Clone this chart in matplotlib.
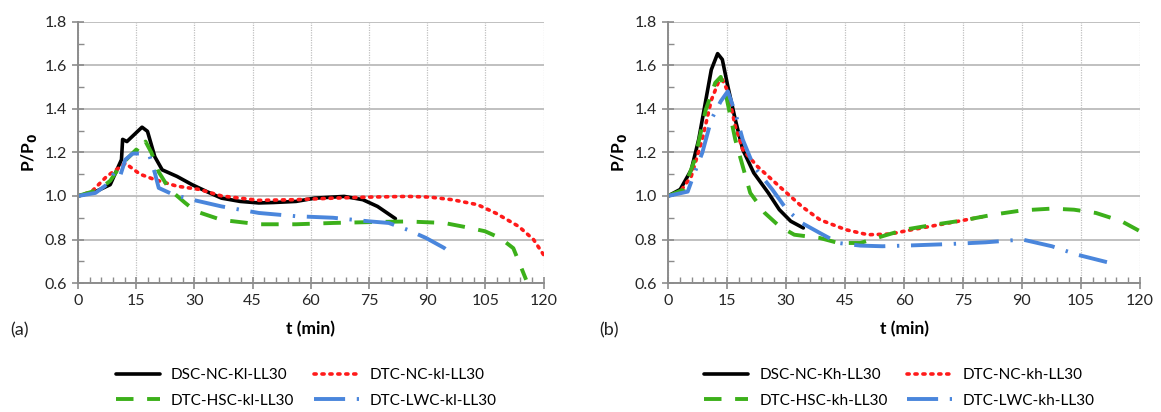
import matplotlib.pyplot as plt
from matplotlib.ticker import MultipleLocator

plt.rcParams['font.family'] = ['Lato', 'DejaVu Sans']

# panel (a) - kl series
a_dsc_t = [0, 4.5, 8.3, 11.2, 11.5, 12.6, 13.6, 16.5, 17.9, 19.8, 21.7, 25.5, 29.4, 33.2, 37, 41.8,
           46.6, 50.4, 56.2, 61, 68.6, 73.4, 77.2, 81.8]
a_dsc_p = [1.0, 1.02, 1.052, 1.167, 1.26, 1.25, 1.267, 1.316, 1.297, 1.18, 1.12, 1.09, 1.052, 1.02, 0.99,
           0.975, 0.968, 0.97, 0.975, 0.99, 0.998, 0.983, 0.952, 0.896]
a_ntc_t = [0, 3.5, 7.4, 12.2, 16, 19.8, 25.5, 31.3, 37, 46.6, 56.2, 65.7, 75.3, 84.9, 90.6, 96.4, 103,
           107.8, 113.6, 117.4, 120]
a_ntc_p = [1.0, 1.02, 1.09, 1.15, 1.10, 1.075, 1.045, 1.03, 1.0, 0.98, 0.983, 0.99, 0.995, 0.998, 0.995,
           0.983, 0.96, 0.92, 0.86, 0.80, 0.73]
a_hsc_t = [0, 5.5, 8.3, 11.2, 15, 16, 17.4, 18.9, 20.8, 23.6, 27.5, 30.3, 37, 46.6, 56.2, 65.7, 75.3,
           84.9, 94.4, 100.2, 104.9, 108.8, 112.2, 114.1, 115.5]
a_hsc_p = [1.0, 1.03, 1.07, 1.145, 1.213, 1.2, 1.25, 1.2, 1.11, 1.03, 0.97, 0.93, 0.89, 0.87, 0.87,
           0.876, 0.88, 0.883, 0.876, 0.856, 0.838, 0.807, 0.76, 0.677, 0.615]
a_lwc_t = [0, 4.5, 7.4, 9.3, 10.7, 12.2, 14.1, 16, 18.4, 19.8, 20.8, 24.6, 29.4, 37, 46.6, 56.2, 65.7,
           75.3, 80.1, 84.9, 89.7, 94.4, 95.4]
a_lwc_p = [1.0, 1.014, 1.052, 1.106, 1.083, 1.167, 1.195, 1.195, 1.185, 1.106, 1.037, 1.006, 0.983,
           0.952, 0.922, 0.907, 0.9, 0.883, 0.876, 0.845, 0.807, 0.761, 0.746]

# panel (b) - kh series
b_dsc_t = [0, 3.1, 5.9, 7.8, 9.6, 11, 12.6, 13.8, 15.2, 17.1, 19, 21.8, 25.5, 28.3, 31.2, 34.4]
b_dsc_p = [1.0, 1.03, 1.12, 1.26, 1.44, 1.58, 1.654, 1.627, 1.504, 1.351, 1.213, 1.106, 1.014, 0.937,
           0.884, 0.853]
b_ntc_t = [0, 3.1, 5.9, 8.7, 11, 12.9, 13.8, 15.2, 17.1, 19, 22.7, 28.3, 34, 38.6, 45.2, 50.8, 56.4,
           62, 71.4, 80.7]
b_ntc_p = [1.0, 1.02, 1.09, 1.26, 1.44, 1.527, 1.535, 1.48, 1.32, 1.213, 1.136, 1.044, 0.952, 0.891,
           0.845, 0.822, 0.825, 0.845, 0.876, 0.907]
b_hsc_t = [0, 4, 6.8, 9.6, 12, 13.4, 14.8, 17.1, 19, 20.9, 24.6, 28.3, 32.1, 38.6, 43.3, 48.9, 54.5,
           60.1, 67.6, 75.1, 82.6, 90.1, 97.6, 103.2, 108.8, 115.3, 120]
b_hsc_p = [1.0, 1.03, 1.167, 1.397, 1.52, 1.547, 1.458, 1.259, 1.136, 1.014, 0.922, 0.861, 0.822,
           0.807, 0.784, 0.784, 0.815, 0.845, 0.868, 0.888, 0.914, 0.934, 0.942, 0.937, 0.922, 0.884, 0.838]
b_lwc_t = [0, 5, 6.4, 8.7, 11, 13.4, 15.2, 17.1, 19, 21.8, 26.5, 30.2, 34, 38.6, 43.3, 48.9, 54.5, 62,
           71.4, 80.7, 90.1, 97.6, 104.1, 111.6]
b_lwc_p = [1.0, 1.02, 1.09, 1.198, 1.351, 1.435, 1.481, 1.382, 1.259, 1.136, 1.03, 0.937, 0.876, 0.83,
           0.784, 0.772, 0.769, 0.773, 0.779, 0.787, 0.8, 0.769, 0.73, 0.696]

labels_a = ["DSC-NC-Kl-LL30", "DTC-NC-kl-LL30", "DTC-HSC-kl-LL30", "DTC-LWC-kl-LL30"]
labels_b = ["DSC-NC-Kh-LL30", "DTC-NC-kh-LL30", "DTC-HSC-kh-LL30", "DTC-LWC-kh-LL30"]

black = "#000000"
red = "#ff1a1a"
green = "#3cb01a"
blue = "#4a86dc"
grid_c = "#c0c0c0"

fig = plt.figure(figsize=(11.61, 4.12), dpi=100)
ax1 = fig.add_axes([0.0672, 0.313, 0.401, 0.634])
ax2 = fig.add_axes([0.5754, 0.313, 0.4065, 0.634])


def draw(ax, data, labels, tag):
    (t1, p1), (t2, p2), (t3, p3), (t4, p4) = data
    l1, = ax.plot(t1, p1, color=black, lw=2.6, solid_capstyle="round")
    l2, = ax.plot(t2, p2, color=red, lw=2.6, linestyle=(0, (0.6, 1.6)), dash_capstyle="round")
    l3, = ax.plot(t3, p3, color=green, lw=2.8, linestyle=(0, (4.5, 3.5)))
    l4, = ax.plot(t4, p4, color=blue, lw=2.8, linestyle=(0, (8, 3, 0.6, 3)))
    ax.set_xlim(0, 120)
    ax.set_ylim(0.6, 1.8)
    ax.xaxis.set_major_locator(MultipleLocator(15))
    ax.xaxis.set_minor_locator(MultipleLocator(3))
    ax.yaxis.set_major_locator(MultipleLocator(0.2))
    ax.yaxis.set_minor_locator(MultipleLocator(0.1))
    ax.yaxis.set_major_formatter(plt.FuncFormatter(lambda v, p: f"{v:.1f}"))
    ax.grid(axis="y", which="major", color=grid_c, lw=1.4, linestyle="-")
    ax.grid(axis="x", which="major", color=grid_c, lw=0.9, linestyle=(0, (1, 1)))
    ax.set_axisbelow(True)
    for s in ["top", "right"]:
        ax.spines[s].set_visible(False)
    for s in ["left", "bottom"]:
        ax.spines[s].set_color("#8c8c8c")
        ax.spines[s].set_linewidth(1.4)
    ax.tick_params(which="major", direction="inout", length=8, color="#8c8c8c", width=1.2,
                   labelsize=11.5, labelcolor="#262626", pad=4)
    ax.tick_params(which="minor", direction="in", length=4, color="#8c8c8c", width=1)
    ax.set_xlabel("t (min)", fontsize=12.5, fontweight="bold", labelpad=9)
    ax.set_ylabel("P/P$_\\mathbf{0}$", fontsize=12.5, fontweight="bold", labelpad=4)
    ax.text(-0.145, -0.18, tag, transform=ax.transAxes, fontsize=13, color="#222222", va="center")
    # row-wise order: first row l1 l2, second row l3 l4
    ax.legend([l1, l3, l2, l4], [labels[0], labels[2], labels[1], labels[3]], ncol=2,
              loc="upper center", bbox_to_anchor=(0.49, -0.285), frameon=False, fontsize=11,
              handlelength=2.9, columnspacing=1.3, labelspacing=0.75, handletextpad=0.7,
              borderaxespad=0.3)


draw(ax1, [(a_dsc_t, a_dsc_p), (a_ntc_t, a_ntc_p), (a_hsc_t, a_hsc_p), (a_lwc_t, a_lwc_p)], labels_a, "(a)")
draw(ax2, [(b_dsc_t, b_dsc_p), (b_ntc_t, b_ntc_p), (b_hsc_t, b_hsc_p), (b_lwc_t, b_lwc_p)], labels_b, "(b)")

plt.savefig("out.png", dpi=100)
